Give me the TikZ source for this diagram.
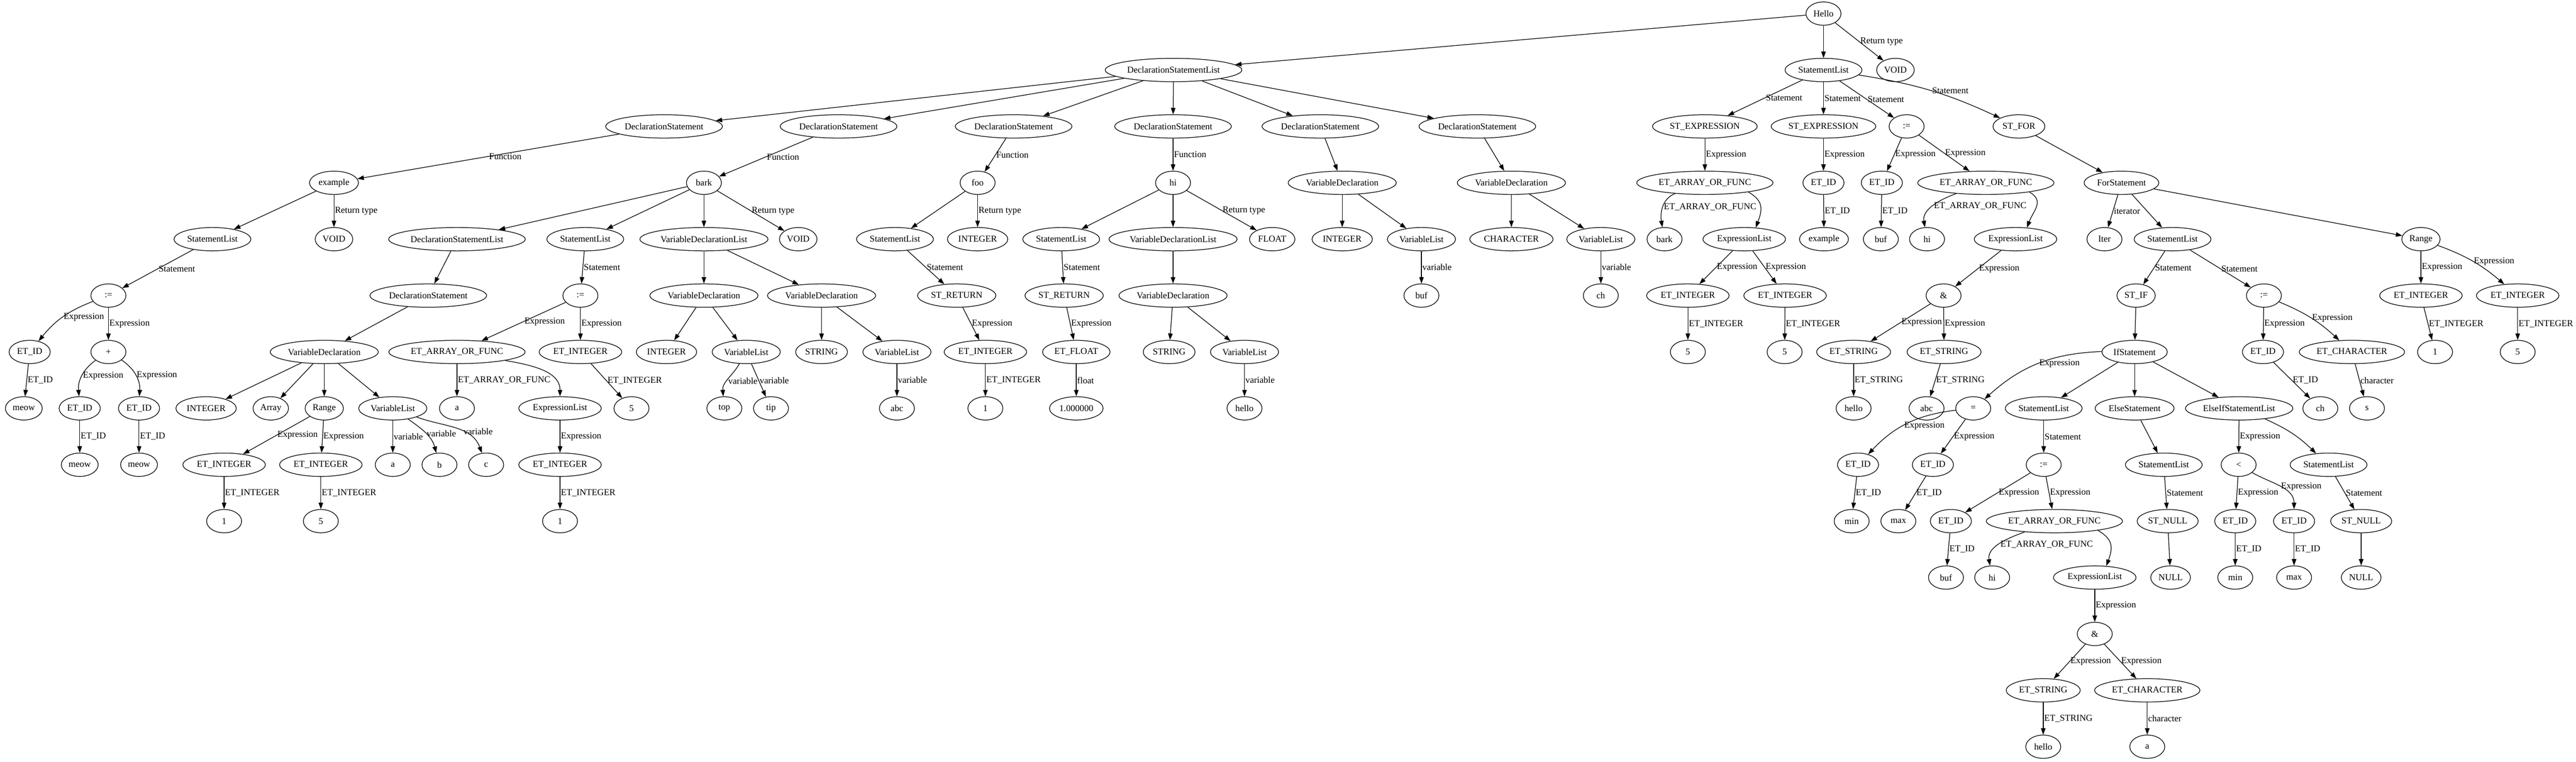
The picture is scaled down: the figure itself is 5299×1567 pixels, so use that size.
\documentclass[tikz,border=0pt]{standalone}
\usepackage{fontspec}
\setmainfont{Liberation Serif}
\usetikzlibrary{shapes.geometric,arrows.meta}

\begin{document}
\begin{tikzpicture}[x=0.75pt,y=-0.75pt,line width=1pt,
    >={Triangle[length=10pt,width=7pt]},
    every node/.style={font=\fontsize{14}{16}\selectfont},
    tn/.style={draw,ellipse,minimum width=54pt,minimum height=36pt,inner xsep=3pt,inner ysep=1pt},
    el/.style={anchor=west,inner sep=1pt},
    lc/.style={out=-160,in=100},
    rc/.style={out=-30,in=70,looseness=1.3}]
    \useasboundingbox (0,0) rectangle (5299,1567);

    \node[tn] (root) at (3751,28) {Hello};

    \node[tn] (dsl) at (2414,144) {DeclarationStatementList};
    \node[tn] (msl) at (3751,144) {StatementList};
    \node[tn] (mvoid) at (3899,144) {VOID};

    \node[tn] (ds1) at (1366,260) {DeclarationStatement};
    \node[tn] (ds2) at (1725,260) {DeclarationStatement};
    \node[tn] (ds3) at (2085,260) {DeclarationStatement};
    \node[tn] (ds4) at (2413,260) {DeclarationStatement};
    \node[tn] (ds5) at (2716,260) {DeclarationStatement};
    \node[tn] (ds6) at (3039,260) {DeclarationStatement};
    \node[tn] (sexp1) at (3507,260) {ST\_EXPRESSION};
    \node[tn] (sexp2) at (3751,260) {ST\_EXPRESSION};
    \node[tn] (massign) at (3922,260) {:=};
    \node[tn] (sfor) at (4153,260) {ST\_FOR};

    \node[tn] (ex) at (687,376) {example};
    \node[tn] (bark) at (1448,376) {bark};
    \node[tn] (foo) at (2011,376) {foo};
    \node[tn] (hi) at (2413,376) {hi};
    \node[tn] (vd5) at (2761,376) {VariableDeclaration};
    \node[tn] (vd6) at (3109,376) {VariableDeclaration};
    \node[tn] (eaf1) at (3507,376) {ET\_ARRAY\_OR\_FUNC};
    \node[tn] (eid1) at (3751,376) {ET\_ID};
    \node[tn] (eid2) at (3871,376) {ET\_ID};
    \node[tn] (eaf2) at (4085,376) {ET\_ARRAY\_OR\_FUNC};
    \node[tn] (forst) at (4364,376) {ForStatement};

    \node[tn] (exsl) at (437,492) {StatementList};
    \node[tn] (exvoid) at (687,492) {VOID};
    \node[tn] (bdsl) at (940,492) {DeclarationStatementList};
    \node[tn] (bsl) at (1204,492) {StatementList};
    \node[tn] (bvdl) at (1448,492) {VariableDeclarationList};
    \node[tn] (bvoid) at (1642,492) {VOID};
    \node[tn] (fsl) at (1841,492) {StatementList};
    \node[tn] (fint) at (2011,492) {INTEGER};
    \node[tn] (hsl) at (2183,492) {StatementList};
    \node[tn] (hvdl) at (2413,492) {VariableDeclarationList};
    \node[tn] (hfloat) at (2617,492) {FLOAT};
    \node[tn] (vd5int) at (2761,492) {INTEGER};
    \node[tn] (vd5vl) at (2924,492) {VariableList};
    \node[tn] (vd6char) at (3109,492) {CHARACTER};
    \node[tn] (vd6vl) at (3293,492) {VariableList};
    \node[tn] (bark2) at (3424,492) {bark};
    \node[tn] (el1) at (3588,492) {ExpressionList};
    \node[tn] (example2) at (3752,492) {example};
    \node[tn] (buf2) at (3869,492) {buf};
    \node[tn] (hi2) at (3964,492) {hi};
    \node[tn] (el2) at (4146,492) {ExpressionList};
    \node[tn] (iter) at (4329,492) {Iter};
    \node[tn] (forsl) at (4469,492) {StatementList};
    \node[tn] (range2) at (4980,492) {Range};

    \node[tn] (exassign) at (223,608) {:=};
    \node[tn] (bds) at (881,608) {DeclarationStatement};
    \node[tn] (bassign) at (1194,608) {:=};
    \node[tn] (bvd1) at (1448,608) {VariableDeclaration};
    \node[tn] (bvd2) at (1690,608) {VariableDeclaration};
    \node[tn] (fret) at (1968,608) {ST\_RETURN};
    \node[tn] (hret) at (2189,608) {ST\_RETURN};
    \node[tn] (hvd) at (2413,608) {VariableDeclaration};
    \node[tn] (buf1) at (2924,608) {buf};
    \node[tn] (ch1) at (3293,608) {ch};
    \node[tn] (eint1) at (3472,608) {ET\_INTEGER};
    \node[tn] (eint2) at (3672,608) {ET\_INTEGER};
    \node[tn] (amp1) at (3998,608) {\&};
    \node[tn] (stif) at (4394,608) {ST\_IF};
    \node[tn] (fassign) at (4657,608) {:=};
    \node[tn] (rint1) at (4980,608) {ET\_INTEGER};
    \node[tn] (rint2) at (5179,608) {ET\_INTEGER};

    \node[tn] (exid) at (61,724) {ET\_ID};
    \node[tn] (plus) at (223,724) {+};
    \node[tn] (bvdecl) at (667,724) {VariableDeclaration};
    \node[tn] (baf) at (940,724) {ET\_ARRAY\_OR\_FUNC};
    \node[tn] (bint) at (1194,724) {ET\_INTEGER};
    \node[tn] (bvd1int) at (1371,724) {INTEGER};
    \node[tn] (bvd1vl) at (1535,724) {VariableList};
    \node[tn] (bvd2str) at (1690,724) {STRING};
    \node[tn] (bvd2vl) at (1845,724) {VariableList};
    \node[tn] (fint2) at (2027,724) {ET\_INTEGER};
    \node[tn] (hflt) at (2214,724) {ET\_FLOAT};
    \node[tn] (hstr) at (2405,724) {STRING};
    \node[tn] (hvl) at (2560,724) {VariableList};
    \node[tn] (five1) at (3472,724) {5};
    \node[tn] (five2) at (3671,724) {5};
    \node[tn] (estr1) at (3813,724) {ET\_STRING};
    \node[tn] (estr2) at (3999,724) {ET\_STRING};
    \node[tn] (ifst) at (4391,724) {IfStatement};
    \node[tn] (fid) at (4655,724) {ET\_ID};
    \node[tn] (fchar) at (4838,724) {ET\_CHARACTER};
    \node[tn] (one3) at (5009,724) {1};
    \node[tn] (five3) at (5179,724) {5};

    \node[tn] (meow1) at (49,840) {meow};
    \node[tn] (pid1) at (164,840) {ET\_ID};
    \node[tn] (pid2) at (286,840) {ET\_ID};
    \node[tn] (vint) at (424,840) {INTEGER};
    \node[tn] (varr) at (557,840) {Array};
    \node[tn] (vrange) at (667,840) {Range};
    \node[tn] (vvl) at (808,840) {VariableList};
    \node[tn] (ba) at (940,840) {a};
    \node[tn] (bel) at (1152,840) {ExpressionList};
    \node[tn] (bfive) at (1299,840) {5};
    \node[tn] (top) at (1490,840) {top};
    \node[tn] (tip) at (1586,840) {tip};
    \node[tn] (abc1) at (1845,840) {abc};
    \node[tn] (fone) at (2027,840) {1};
    \node[tn] (hfv) at (2214,840) {1.000000};
    \node[tn] (hhello) at (2560,840) {hello};
    \node[tn] (shello) at (3813,840) {hello};
    \node[tn] (sabc) at (3963,840) {abc};
    \node[tn] (eq) at (4059,840) {=};
    \node[tn] (ifsl) at (4204,840) {StatementList};
    \node[tn] (elsest) at (4391,840) {ElseStatement};
    \node[tn] (eisl) at (4606,840) {ElseIfStatementList};
    \node[tn] (ch2) at (4773,840) {ch};
    \node[tn] (s1) at (4869,840) {s};

    \node[tn] (meow2) at (164,956) {meow};
    \node[tn] (meow3) at (286,956) {meow};
    \node[tn] (rint3) at (461,956) {ET\_INTEGER};
    \node[tn] (rint4) at (660,956) {ET\_INTEGER};
    \node[tn] (va) at (808,956) {a};
    \node[tn] (vb) at (904,956) {b};
    \node[tn] (vc) at (1000,956) {c};
    \node[tn] (belint) at (1152,956) {ET\_INTEGER};
    \node[tn] (eqid1) at (3822,956) {ET\_ID};
    \node[tn] (eqid2) at (3976,956) {ET\_ID};
    \node[tn] (ifassign) at (4204,956) {:=};
    \node[tn] (elsesl) at (4451,956) {StatementList};
    \node[tn] (lt) at (4605,956) {<};
    \node[tn] (eisl2) at (4790,956) {StatementList};

    \node[tn] (rone) at (461,1072) {1};
    \node[tn] (rfive) at (660,1072) {5};
    \node[tn] (belone) at (1152,1072) {1};
    \node[tn] (min1) at (3809,1072) {min};
    \node[tn] (max1) at (3905,1072) {max};
    \node[tn] (ifid) at (4013,1072) {ET\_ID};
    \node[tn] (ifaf) at (4226,1072) {ET\_ARRAY\_OR\_FUNC};
    \node[tn] (nullst1) at (4459,1072) {ST\_NULL};
    \node[tn] (ltid1) at (4598,1072) {ET\_ID};
    \node[tn] (ltid2) at (4719,1072) {ET\_ID};
    \node[tn] (nullst2) at (4857,1072) {ST\_NULL};

    \node[tn] (ifbuf) at (4003,1188) {buf};
    \node[tn] (ifhi) at (4098,1188) {hi};
    \node[tn] (ifel) at (4309,1188) {ExpressionList};
    \node[tn] (null1) at (4465,1188) {NULL};
    \node[tn] (ltmin) at (4598,1188) {min};
    \node[tn] (ltmax) at (4719,1188) {max};
    \node[tn] (null2) at (4857,1188) {NULL};

    \node[tn] (amp2) at (4309,1304) {\&};
    \node[tn] (iestr) at (4203,1420) {ET\_STRING};
    \node[tn] (iechar) at (4417,1420) {ET\_CHARACTER};
    \node[tn] (ihello) at (4203,1536) {hello};
    \node[tn] (ia) at (4417,1536) {a};

    \draw[->] (root) -- (dsl);
    \draw[->] (root) -- (msl);
    \draw[->] (root) -- node[el]{Return type} (mvoid);
    \draw[->] (dsl) -- (ds1);
    \draw[->] (dsl) -- (ds2);
    \draw[->] (dsl) -- (ds3);
    \draw[->] (dsl) -- (ds4);
    \draw[->] (dsl) -- (ds5);
    \draw[->] (dsl) -- (ds6);
    \draw[->] (ds1) -- node[el]{Function} (ex);
    \draw[->] (ds2) -- node[el]{Function} (bark);
    \draw[->] (ds3) -- node[el]{Function} (foo);
    \draw[->] (ds4) -- node[el]{Function} (hi);
    \draw[->] (ds5) -- (vd5);
    \draw[->] (ds6) -- (vd6);

    \draw[->] (ex) -- (exsl);
    \draw[->] (ex) -- node[el]{Return type} (exvoid);
    \draw[->] (exsl) -- node[el]{Statement} (exassign);
    \draw[->] (exassign) to[bend right=15] node[el]{Expression} (exid);
    \draw[->] (exassign) -- node[el]{Expression} (plus);
    \draw[->] (exid) -- node[el]{ET\_ID} (meow1);
    \draw[->] (plus) to[bend right=30] node[el]{Expression} (pid1);
    \draw[->] (plus) to[bend left=30] node[el]{Expression} (pid2);
    \draw[->] (pid1) -- node[el]{ET\_ID} (meow2);
    \draw[->] (pid2) -- node[el]{ET\_ID} (meow3);

    \draw[->] (bark) -- (bdsl);
    \draw[->] (bark) -- (bsl);
    \draw[->] (bark) -- (bvdl);
    \draw[->] (bark) -- node[el]{Return type} (bvoid);
    \draw[->] (bdsl) -- (bds);
    \draw[->] (bds) -- (bvdecl);
    \draw[->] (bvdecl) -- (vint);
    \draw[->] (bvdecl) -- (varr);
    \draw[->] (bvdecl) -- (vrange);
    \draw[->] (bvdecl) -- (vvl);
    \draw[->] (vrange) -- node[el]{Expression} (rint3);
    \draw[->] (vrange) -- node[el]{Expression} (rint4);
    \draw[->] (rint3) -- node[el]{ET\_INTEGER} (rone);
    \draw[->] (rint4) -- node[el]{ET\_INTEGER} (rfive);
    \draw[->] (vvl) -- node[el]{variable} (va);
    \draw[->] (vvl) to[out=-35,in=105] node[el]{variable} (vb);
    \draw[->] (vvl) to[out=-20,in=110] node[el,pos=0.6]{variable} (vc);
    \draw[->] (bsl) -- node[el]{Statement} (bassign);
    \draw[->] (bassign) -- node[el]{Expression} (baf);
    \draw[->] (bassign) -- node[el]{Expression} (bint);
    \draw[->] (baf) -- node[el]{ET\_ARRAY\_OR\_FUNC} (ba);
    \draw[->] (baf) to[out=-10,in=90] (bel);
    \draw[->] (bel) -- node[el]{Expression} (belint);
    \draw[->] (belint) -- node[el]{ET\_INTEGER} (belone);
    \draw[->] (bint) -- node[el]{ET\_INTEGER} (bfive);
    \draw[->] (bvdl) -- (bvd1);
    \draw[->] (bvdl) -- (bvd2);
    \draw[->] (bvd1) -- (bvd1int);
    \draw[->] (bvd1) -- (bvd1vl);
    \draw[->] (bvd1vl) to[out=-120,in=95] node[el,pos=0.55]{variable} (top);
    \draw[->] (bvd1vl) -- node[el]{variable} (tip);
    \draw[->] (bvd2) -- (bvd2str);
    \draw[->] (bvd2) -- (bvd2vl);
    \draw[->] (bvd2vl) -- node[el]{variable} (abc1);

    \draw[->] (foo) -- (fsl);
    \draw[->] (foo) -- node[el]{Return type} (fint);
    \draw[->] (fsl) -- node[el]{Statement} (fret);
    \draw[->] (fret) -- node[el]{Expression} (fint2);
    \draw[->] (fint2) -- node[el]{ET\_INTEGER} (fone);
    \draw[->] (hi) -- (hsl);
    \draw[->] (hi) -- (hvdl);
    \draw[->] (hi) -- node[el]{Return type} (hfloat);
    \draw[->] (hsl) -- node[el]{Statement} (hret);
    \draw[->] (hret) -- node[el]{Expression} (hflt);
    \draw[->] (hflt) -- node[el]{float} (hfv);
    \draw[->] (hvdl) -- (hvd);
    \draw[->] (hvd) -- (hstr);
    \draw[->] (hvd) -- (hvl);
    \draw[->] (hvl) -- node[el]{variable} (hhello);
    \draw[->] (vd5) -- (vd5int);
    \draw[->] (vd5) -- (vd5vl);
    \draw[->] (vd5vl) -- node[el]{variable} (buf1);
    \draw[->] (vd6) -- (vd6char);
    \draw[->] (vd6) -- (vd6vl);
    \draw[->] (vd6vl) -- node[el]{variable} (ch1);

    \draw[->] (msl) -- node[el]{Statement} (sexp1);
    \draw[->] (msl) -- node[el]{Statement} (sexp2);
    \draw[->] (msl) -- node[el]{Statement} (massign);
    \draw[->] (msl) to[bend left=8] node[el]{Statement} (sfor);
    \draw[->] (sexp1) -- node[el]{Expression} (eaf1);
    \draw[->] (eaf1) to[lc] node[el]{ET\_ARRAY\_OR\_FUNC} (bark2);
    \draw[->] (eaf1.-12) to[rc] (el1.45);
    \draw[->] (el1) -- node[el]{Expression} (eint1);
    \draw[->] (el1) -- node[el]{Expression} (eint2);
    \draw[->] (eint1) -- node[el]{ET\_INTEGER} (five1);
    \draw[->] (eint2) -- node[el]{ET\_INTEGER} (five2);
    \draw[->] (sexp2) -- node[el]{Expression} (eid1);
    \draw[->] (eid1) -- node[el]{ET\_ID} (example2);
    \draw[->] (massign) -- node[el]{Expression} (eid2);
    \draw[->] (massign) -- node[el]{Expression} (eaf2);
    \draw[->] (eid2) -- node[el]{ET\_ID} (buf2);
    \draw[->] (eaf2) to[lc] node[el]{ET\_ARRAY\_OR\_FUNC} (hi2);
    \draw[->] (eaf2.-12) to[rc] (el2.45);
    \draw[->] (el2) -- node[el]{Expression} (amp1);
    \draw[->] (amp1) -- node[el]{Expression} (estr1);
    \draw[->] (amp1) -- node[el]{Expression} (estr2);
    \draw[->] (estr1) -- node[el]{ET\_STRING} (shello);
    \draw[->] (estr2) -- node[el]{ET\_STRING} (sabc);

    \draw[->] (sfor) -- (forst);
    \draw[->] (forst) -- node[el]{iterator} (iter);
    \draw[->] (forst) -- (forsl);
    \draw[->] (forst) -- (range2);
    \draw[->] (forsl) -- node[el]{Statement} (stif);
    \draw[->] (forsl) -- node[el]{Statement} (fassign);
    \draw[->] (stif) -- (ifst);
    \draw[->] (ifst) to[bend right=20] node[el]{Expression} (eq);
    \draw[->] (ifst) -- (ifsl);
    \draw[->] (ifst) -- (elsest);
    \draw[->] (ifst) -- (eisl);
    \draw[->] (eq) to[bend right=20] node[el,pos=0.55]{Expression} (eqid1);
    \draw[->] (eq) -- node[el]{Expression} (eqid2);
    \draw[->] (eqid1) -- node[el]{ET\_ID} (min1);
    \draw[->] (eqid2) -- node[el]{ET\_ID} (max1);
    \draw[->] (ifsl) -- node[el]{Statement} (ifassign);
    \draw[->] (ifassign) -- node[el]{Expression} (ifid);
    \draw[->] (ifassign) -- node[el]{Expression} (ifaf);
    \draw[->] (ifid) -- node[el]{ET\_ID} (ifbuf);
    \draw[->] (ifaf) to[lc] node[el]{ET\_ARRAY\_OR\_FUNC} (ifhi);
    \draw[->] (ifaf.-12) to[rc] (ifel.45);
    \draw[->] (ifel) -- node[el]{Expression} (amp2);
    \draw[->] (amp2) -- node[el]{Expression} (iestr);
    \draw[->] (amp2) -- node[el]{Expression} (iechar);
    \draw[->] (iestr) -- node[el]{ET\_STRING} (ihello);
    \draw[->] (iechar) -- node[el]{character} (ia);
    \draw[->] (elsest) -- (elsesl);
    \draw[->] (elsesl) -- node[el]{Statement} (nullst1);
    \draw[->] (nullst1) -- (null1);
    \draw[->] (eisl) -- node[el]{Expression} (lt);
    \draw[->] (eisl) to[bend left=10] (eisl2);
    \draw[->] (lt) -- node[el]{Expression} (ltid1);
    \draw[->] (lt) to[out=-30,in=90] node[el]{Expression} (ltid2);
    \draw[->] (ltid1) -- node[el]{ET\_ID} (ltmin);
    \draw[->] (ltid2) -- node[el]{ET\_ID} (ltmax);
    \draw[->] (eisl2) -- node[el]{Statement} (nullst2);
    \draw[->] (nullst2) -- (null2);
    \draw[->] (fassign) -- node[el]{Expression} (fid);
    \draw[->] (fassign) to[bend left=10] node[el]{Expression} (fchar);
    \draw[->] (fid) -- node[el]{ET\_ID} (ch2);
    \draw[->] (fchar) -- node[el]{character} (s1);
    \draw[->] (range2) -- node[el]{Expression} (rint1);
    \draw[->] (range2) to[bend left=10] node[el]{Expression} (rint2);
    \draw[->] (rint1) -- node[el]{ET\_INTEGER} (one3);
    \draw[->] (rint2) -- node[el]{ET\_INTEGER} (five3);
\end{tikzpicture}
\end{document}
